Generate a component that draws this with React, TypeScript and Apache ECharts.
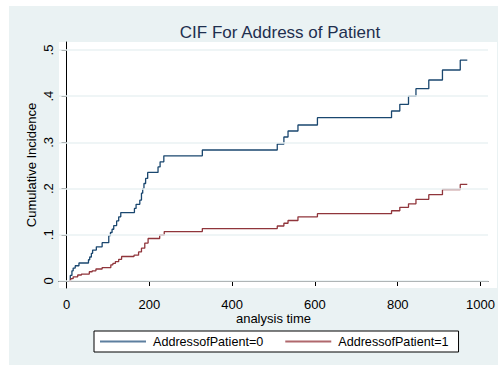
import React, { useEffect, useRef } from "react";
import * as echarts from "echarts";

const chartTitle = "CIF For Address of Patient";
const xTitle = "analysis time";
const yTitle = "Cumulative Incidence";
const seriesNames = ["AddressofPatient=0", "AddressofPatient=1"];

const time0 = [6, 9, 13, 16, 21, 30, 53, 56, 60, 63, 72, 86, 102, 106, 110, 114, 121, 126, 131, 164, 168, 177, 181, 184, 187, 191, 196, 221, 226, 235, 328, 509, 525, 535, 559, 606, 785, 805, 826, 844, 875, 908, 951, 968];
const cif0 = [0, 0.012, 0.022, 0.028, 0.033, 0.039, 0.046, 0.052, 0.06, 0.067, 0.074, 0.083, 0.098, 0.105, 0.112, 0.12, 0.13, 0.139, 0.148, 0.157, 0.166, 0.175, 0.19, 0.2, 0.211, 0.222, 0.235, 0.247, 0.258, 0.271, 0.2835, 0.2965, 0.3117, 0.3247, 0.3377, 0.3535, 0.368, 0.3825, 0.4, 0.4163, 0.435, 0.4567, 0.478, 0.478];

const time1 = [6, 10, 16, 27, 36, 55, 62, 71, 86, 107, 112, 118, 126, 133, 163, 174, 181, 189, 197, 225, 236, 328, 509, 525, 535, 559, 606, 785, 805, 826, 844, 875, 908, 951, 968];
const cif1 = [0, 0.005, 0.009, 0.013, 0.015, 0.02, 0.022, 0.026, 0.029, 0.035, 0.038, 0.042, 0.047, 0.053, 0.056, 0.063, 0.071, 0.082, 0.092, 0.0996, 0.107, 0.1135, 0.119, 0.125, 0.131, 0.139, 0.1457, 0.152, 0.1595, 0.167, 0.1768, 0.1868, 0.198, 0.209, 0.209];

const xTicks = [0, 200, 400, 600, 800, 1000];
const xTickLabels = ["0", "200", "400", "600", "800", "1000"];
const yTicks = [0, 0.1, 0.2, 0.3, 0.4, 0.5];
const yTickLabels = ["0", ".1", ".2", ".3", ".4", ".5"];

const FONT = '"Liberation Sans", Arial, sans-serif';
const BLUE = "#1a476f";
const RED = "#90353b";
const BG = "#eaf2f3";

const lookup = (ticks: number[], labels: string[]) => (v: number) => {
  const i = ticks.findIndex((t) => Math.abs(t - v) < 1e-6);
  return i >= 0 ? labels[i] : "";
};

export default function App() {
  const ref = useRef<HTMLDivElement>(null);
  useEffect(() => {
    if (!ref.current) return;
    const chart = echarts.init(ref.current, null, { renderer: "svg" });
    const data0 = time0.map((t, i) => [t, cif0[i]]);
    const data1 = time1.map((t, i) => [t, cif1[i]]);
    chart.setOption({
      animation: false,
      backgroundColor: "#ffffff",
      textStyle: { fontFamily: FONT },
      graphic: [
        { type: "rect", z: -100, shape: { x: 9, y: 6, width: 489, height: 359 }, style: { fill: BG }, silent: true },
        { type: "rect", z: -99, shape: { x: 59, y: 42, width: 438, height: 246 }, style: { fill: "#ffffff" }, silent: true },
      ],
      title: {
        text: chartTitle,
        left: 275,
        top: 19,
        textAlign: "center",
        textStyle: { fontFamily: FONT, fontSize: 17, fontWeight: "normal", color: "#1e2f4f" },
      },
      grid: { left: 59, right: 1, top: 42, bottom: 79, containLabel: false },
      xAxis: {
        type: "value",
        min: -18.2,
        max: 1018,
        name: xTitle,
        nameLocation: "middle",
        nameGap: 24,
        nameMoveOverlap: false,
        nameTextStyle: { fontFamily: FONT, fontSize: 13, color: "#000" },
        axisLine: { show: true, lineStyle: { color: "#000", width: 1 } },
        axisTick: { show: true, length: 5, customValues: xTicks, lineStyle: { color: "#000" } },
        axisLabel: {
          customValues: xTicks,
          fontFamily: FONT,
          fontSize: 13,
          color: "#000",
          margin: 10,
          showMaxLabel: true,
          showMinLabel: true,
          hideOverlap: false,
          formatter: lookup(xTicks, xTickLabels),
        },
        splitLine: { show: false },
      },
      yAxis: {
        type: "value",
        min: -0.01515,
        max: 0.5173,
        name: yTitle,
        nameLocation: "middle",
        nameGap: 21,
        nameMoveOverlap: false,
        nameTextStyle: { fontFamily: FONT, fontSize: 13, color: "#000" },
        axisLine: { show: true, lineStyle: { color: "#000", width: 1 } },
        axisTick: { show: true, length: 5, customValues: yTicks, lineStyle: { color: "#000" } },
        axisLabel: {
          customValues: yTicks,
          rotate: 90,
          fontFamily: FONT,
          fontSize: 13,
          color: "#000",
          margin: 4,
          formatter: lookup(yTicks, yTickLabels),
        },
        splitLine: { show: false },
      },
      legend: {
        data: [
          { name: seriesNames[0], itemStyle: { color: "#5d7f9f" } },
          { name: seriesNames[1], itemStyle: { color: "#b0686d" } },
        ],
        left: 94,
        top: 331,
        orient: "horizontal",
        backgroundColor: "#ffffff",
        borderColor: "#000",
        borderWidth: 1,
        borderRadius: 0,
        padding: [4, 10, 4, 6],
        itemGap: 22,
        itemWidth: 46,
        itemHeight: 2,
        icon: "rect",
        textStyle: { fontFamily: FONT, fontSize: 12.6, color: "#000", padding: [0, 0, 0, 2] },
      },
      series: [
        {
          name: "grid",
          type: "line",
          data: [[0, 0]],
          symbol: "none",
          lineStyle: { opacity: 0 },
          silent: true,
          z: 1,
          markLine: {
            silent: true,
            symbol: "none",
            label: { show: false },
            lineStyle: { color: BG, width: 1.5, type: "solid" },
            data: yTicks.map((v) => ({ yAxis: v })),
          },
        },
        {
          name: seriesNames[0],
          type: "line",
          step: "end",
          data: data0,
          symbol: "none",
          showSymbol: false,
          color: BLUE,
          lineStyle: { color: BLUE, width: 1.3 },
          z: 3,
        },
        {
          name: seriesNames[1],
          type: "line",
          step: "end",
          data: data1,
          symbol: "none",
          showSymbol: false,
          color: RED,
          lineStyle: { color: RED, width: 1.3 },
          z: 3,
        },
      ],
    });
    return () => chart.dispose();
  }, []);
  return <div ref={ref} style={{ position: "absolute", left: 0, top: 0, width: 498, height: 367 }} />;
}
